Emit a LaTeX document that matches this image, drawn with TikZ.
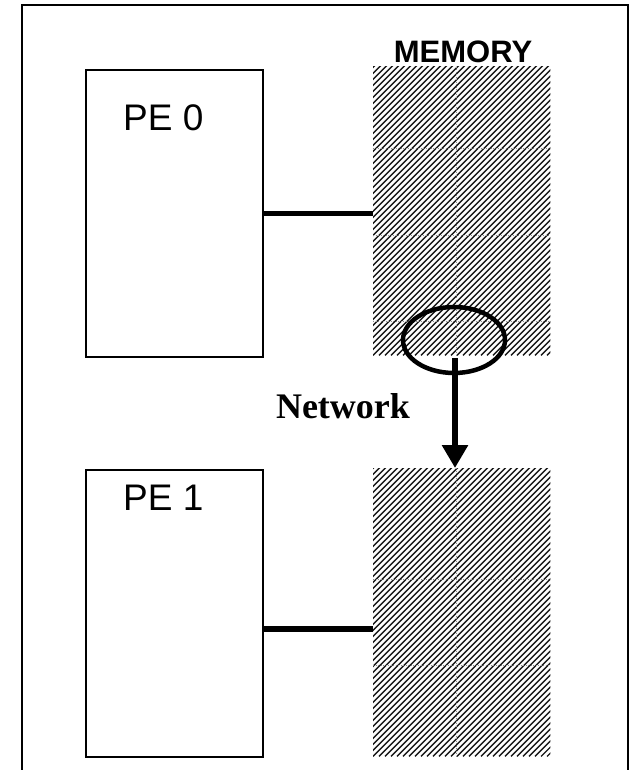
\documentclass[tikz,border=0pt]{standalone}
\usepackage{fontspec}
\setmainfont{Liberation Serif}
\setsansfont{Liberation Sans}
\usetikzlibrary{shapes.geometric,arrows.meta}

\tikzset{
  pebox/.style={draw, line width=1.6pt, rectangle, minimum width=177pt,
    minimum height=287pt, inner sep=0pt, anchor=north west},
  memblock/.style={rectangle, minimum width=177pt, minimum height=288pt,
    inner sep=0pt, anchor=north west},
  hatch/.style={line width=1.3pt, black!90},
  cell/.style={line width=0.4pt, black!45, dash pattern=on 1pt off 1.5pt},
  bus/.style={line width=5.5pt},
  pelabel/.style={font=\sffamily\fontsize{37}{40}\selectfont, anchor=base west, inner sep=0pt},
  netarrow/.style={line width=6pt, -{Triangle[length=23pt, width=25pt]}},
  frame/.style={line width=2pt}
}

\begin{document}
\begin{tikzpicture}[x=1pt, y=-1pt]
  \useasboundingbox (0,0) rectangle (630,770);

  % outer frame, open at the bottom
  \draw[frame] (22,770) -- (22,5) -- (628,5) -- (628,770);

  % processing elements
  \node[pebox] (pe0) at (85,69) {};
  \node[pebox] (pe1) at (85,469) {};
  \node[pelabel] (pe0lbl) at (123,131) {PE 0};
  \node[pelabel] (pe1lbl) at (123,510) {PE 1};

  % memory blocks
  \node[memblock] (mem0) at (373,67) {};
  \node[memblock] (mem1) at (373,468) {};

  \foreach \m in {mem0,mem1}{
    \begin{scope}
      \clip (\m.north west) rectangle (\m.south east);
      \foreach \i in {-300,-294,...,186}{
        \draw[hatch] ([xshift=\i pt]\m.south west) -- ++(300pt,300pt);
      }
    \end{scope}
  }

  % cell boundaries inside the memory
  \draw[cell] (456,67) -- (456,355);
  \draw[cell] (456,468) -- (456,756);
  \foreach \yy in {148,235,321}{ \draw[cell] (373,\yy) -- (550,\yy); }
  \foreach \yy in {579,665}{ \draw[cell] (373,\yy) -- (550,\yy); }

  \node[font=\sffamily\bfseries\fontsize{31}{34}\selectfont, anchor=base] (memlbl) at (463,63) {MEMORY};

  % buses between processors and memories
  \draw[bus] (pe0.east) -- (pe0.east -| mem0.west);
  \coordinate (bus1) at (262,629);
  \draw[bus] (bus1) -- (bus1 -| mem1.west);

  % network transfer
  \node[ellipse, draw, line width=4.5pt, minimum width=102pt, minimum height=66pt,
        inner sep=0pt] (tap) at (454,340) {};
  \coordinate (src) at (455,358);
  \draw[netarrow] (src) -- (src |- mem1.north);
  \node[font=\bfseries\fontsize{36}{40}\selectfont, anchor=base] (net) at (343,418) {Network};
\end{tikzpicture}
\end{document}
